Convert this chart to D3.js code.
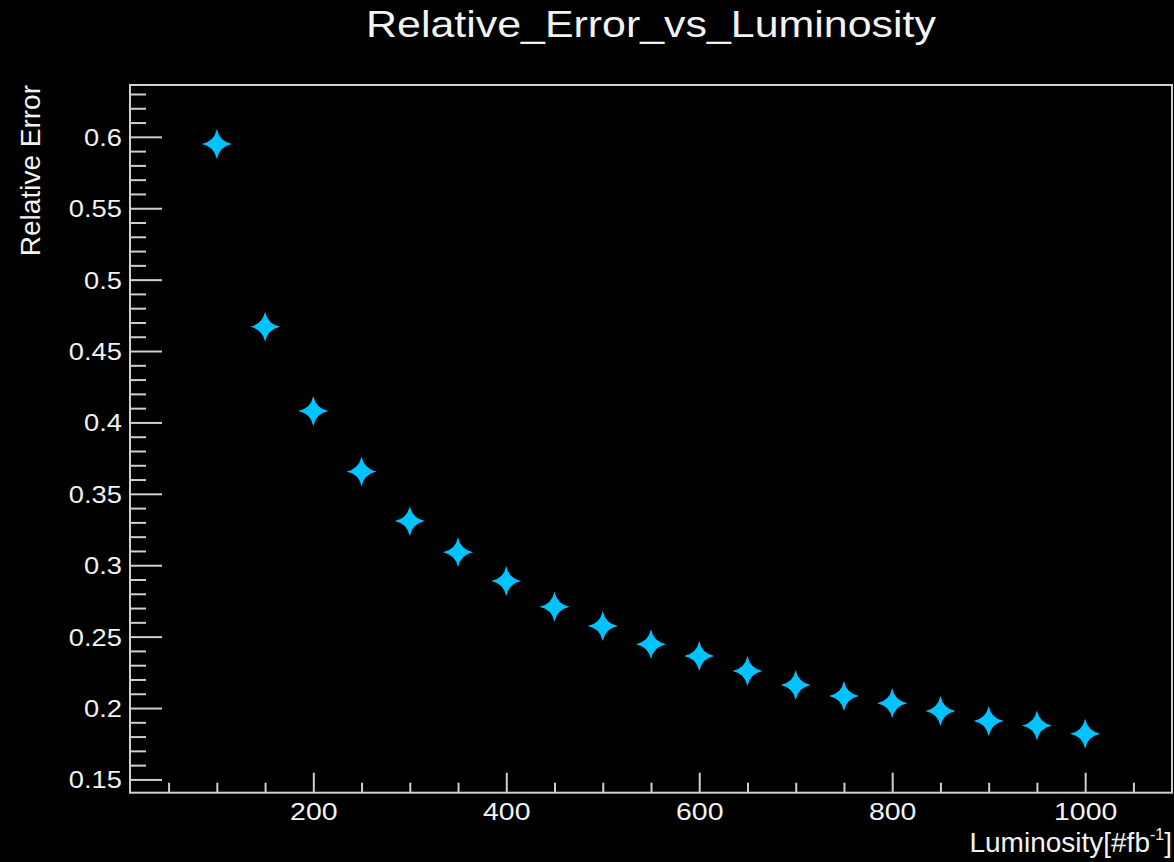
<!DOCTYPE html>
<html>
<head>
<meta charset="utf-8">
<script src="https://cdn.jsdelivr.net/npm/d3@7"></script>
<style>
  html, body { margin: 0; padding: 0; background: #000; }
  svg { display: block; }
  text { font-family: "Liberation Sans", Arial, Helvetica, sans-serif; fill: #f2f2f2; }
</style>
</head>
<body>
<svg id="chart" width="1174" height="862"></svg>
<script>
// ---- data ----
const luminosity = [100, 150, 200, 250, 300, 350, 400, 450, 500, 550, 600, 650, 700, 750, 800, 850, 900, 950, 1000];
const relativeError = [0.595, 0.467, 0.408, 0.3657, 0.331, 0.309, 0.289, 0.271, 0.2575, 0.2446, 0.2364, 0.2259, 0.2161, 0.2084, 0.2033, 0.1979, 0.1909, 0.1878, 0.182];
const xMajorTicks = [200, 400, 600, 800, 1000];
const yMajorTicks = [0.15, 0.2, 0.25, 0.3, 0.35, 0.4, 0.45, 0.5, 0.55, 0.6];
const yTickLabels = ["0.15", "0.2", "0.25", "0.3", "0.35", "0.4", "0.45", "0.5", "0.55", "0.6"];
const chartTitle = "Relative_Error_vs_Luminosity";
const yTitle = "Relative Error";

// ---- layout ----
const W = 1174, H = 862;
const frame = { left: 130, right: 1172, top: 85, bottom: 792.7 };
const stretch = 1.16; // text in the reference is horizontally widened
const svg = d3.select("#chart");
svg.append("rect").attr("width", W).attr("height", H).attr("fill", "#000");

// ROOT-style auto range: data range padded by 10%
const xMin = d3.min(luminosity), xMax = d3.max(luminosity);
const yMin = d3.min(relativeError), yMax = d3.max(relativeError);
const xPad = 0.1 * (xMax - xMin), yPad = 0.1 * (yMax - yMin);
const x = d3.scaleLinear().domain([xMin - xPad, xMax + xPad]).range([frame.left, frame.right]);
const y = d3.scaleLinear().domain([yMin - yPad, yMax + yPad]).range([frame.bottom, frame.top]);

const axisColor = "#cfcfcf";

// minor tick values
const xMinor = d3.range(50, 1051, 50).filter(v => v >= x.domain()[0] && v <= x.domain()[1] && !xMajorTicks.includes(v));
const yMinor = d3.range(14, 64).map(v => v / 100).filter(v => v >= y.domain()[0] && v <= y.domain()[1] && !yMajorTicks.some(m => Math.abs(m - v) < 1e-9));

// Y axis
const gy = svg.append("g").attr("transform", `translate(${frame.left},0)`);
gy.append("g").call(d3.axisLeft(y).tickValues(yMinor).tickSize(-16).tickFormat(""));
gy.append("g").attr("class", "ymaj").call(d3.axisLeft(y).tickValues(yMajorTicks).tickSize(-32).tickPadding(7)
  .tickFormat((d, i) => yTickLabels[i]));
gy.selectAll(".domain").remove();
gy.selectAll("line").attr("stroke", axisColor).attr("stroke-width", 2);
gy.selectAll(".ymaj text").attr("font-size", 23.5).attr("fill", "#f2f2f2")
  .attr("font-family", "Liberation Sans, Arial, sans-serif").attr("dy", "0.36em")
  .attr("transform", `scale(${stretch},1)`);

// X axis
const gx = svg.append("g").attr("transform", `translate(0,${frame.bottom})`);
gx.append("g").call(d3.axisBottom(x).tickValues(xMinor).tickSize(-10).tickFormat(""));
gx.append("g").attr("class", "xmaj").call(d3.axisBottom(x).tickValues(xMajorTicks).tickSize(-20).tickPadding(10)
  .tickFormat(d3.format("d")));
gx.selectAll(".domain").remove();
gx.selectAll("line").attr("stroke", axisColor).attr("stroke-width", 2);
gx.selectAll(".xmaj text").attr("font-size", 24.5).attr("fill", "#f2f2f2")
  .attr("font-family", "Liberation Sans, Arial, sans-serif").attr("dy", "0.71em")
  .attr("transform", `scale(${stretch},1)`);

// frame
svg.append("rect")
  .attr("x", frame.left).attr("y", frame.top)
  .attr("width", frame.right - frame.left).attr("height", frame.bottom - frame.top)
  .attr("fill", "none").attr("stroke", axisColor).attr("stroke-width", 2);

// four-pointed star symbol
const star4 = {
  draw(ctx, size) {
    const r = Math.sqrt(size) / 2;
    const c = r * 0.17;
    ctx.moveTo(0, -r);
    ctx.quadraticCurveTo(c, -c, r, 0);
    ctx.quadraticCurveTo(c, c, 0, r);
    ctx.quadraticCurveTo(-c, c, -r, 0);
    ctx.quadraticCurveTo(-c, -c, 0, -r);
    ctx.closePath();
  }
};
const pts = luminosity.map((l, i) => ({ l, e: relativeError[i] }));
svg.append("g").selectAll("path").data(pts).join("path")
  .attr("transform", d => `translate(${x(d.l)},${y(d.e)})`)
  .attr("d", d3.symbol().type(star4).size(30 * 30))
  .attr("fill", "#00c3ff");

// titles
svg.append("text")
  .attr("transform", `translate(${(frame.left + frame.right) / 2},37) scale(${stretch},1)`)
  .attr("text-anchor", "middle").attr("font-size", 37).text(chartTitle);

svg.append("text").attr("transform", `translate(40,${frame.top}) rotate(-90)`)
  .attr("text-anchor", "end").attr("font-size", 28).text(yTitle);

const xt = svg.append("text").attr("x", frame.right).attr("y", 852)
  .attr("text-anchor", "end").attr("font-size", 28);
xt.append("tspan").text("Luminosity[#fb");
xt.append("tspan").attr("font-size", 16).attr("dy", -12).text("-1");
xt.append("tspan").attr("dy", 12).text("]");
</script>
</body>
</html>
